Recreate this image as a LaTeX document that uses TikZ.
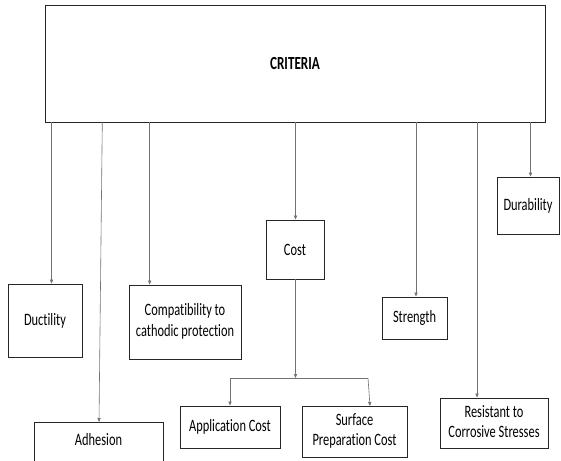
\documentclass[tikz,border=0pt]{standalone}
\usepackage{fontspec}
\setmainfont[Ligatures={NoCommon}]{Carlito}
\usepackage{graphicx}
\usetikzlibrary{arrows.meta}
\newcommand{\tx}[1]{\scalebox{1}[1.4]{#1}}
\newcommand{\txx}[2]{\scalebox{1}[1.4]{\begin{tabular}{@{}c@{}}#1\\#2\end{tabular}}}
\begin{document}
\begin{tikzpicture}[x=1pt,y=-1pt,
  boxnode/.style={draw=black!85,line width=0.9pt,inner sep=0pt,align=center,
    font=\fontsize{12.4}{14.3}\selectfont},
  conn/.style={draw=black!55,line width=0.6pt},
  arr/.style={conn,-{Triangle[length=4pt,width=3.2pt]}}]
\useasboundingbox (0,0) rectangle (561,460);
\clip (0,0) rectangle (561,460);
\fill[white] (0,0) rectangle (561,460);
% boxes
\node[boxnode,minimum width=500pt,minimum height=117pt] (crit) at (295,63.5)
  {\tx{\fontsize{13.2}{15}\selectfont\bfseries CRITERIA}};
\node[boxnode,minimum width=74pt,minimum height=73pt] (duct) at (45,320.5) {\tx{Ductility}};
\node[boxnode,minimum width=112pt,minimum height=74pt] (comp) at (185,322) {\txx{Compatibility to}{cathodic protection}};
\node[boxnode,minimum width=58pt,minimum height=59pt] (cost) at (295,249.5) {\tx{Cost}};
\node[boxnode,minimum width=65pt,minimum height=42pt] (stre) at (414.5,318) {\tx{Strength}};
\node[boxnode,minimum width=62pt,minimum height=57pt] (dura) at (528,205.5) {\tx{Durability}};
\node[boxnode,minimum width=129pt,minimum height=48pt,anchor=north] (adhe) at (98.5,422) {\tx{Adhesion}\rule[-13pt]{0pt}{1pt}};
\node[boxnode,minimum width=100pt,minimum height=42pt] (appl) at (230,427) {\tx{Application Cost}};
\node[boxnode,minimum width=105pt,minimum height=51pt] (surf) at (354.5,431.5) {\txx{Surface}{Preparation Cost}};
\node[boxnode,minimum width=108pt,minimum height=50pt] (resi) at (494,423) {\txx{Resistant to}{Corrosive Stresses}};
% connector start points on the criteria box
\coordinate (s1) at (51.5,122);
\coordinate (s2) at (102.3,122);
\coordinate (s3) at (149.7,122);
\coordinate (s4) at (295.5,122);
\coordinate (s5) at (416,122);
\coordinate (s6) at (477,122);
\coordinate (s7) at (530.5,122);
\coordinate (adtop) at (99,422);
\draw[arr] (s1) -- (s1 |- duct.north);
\draw[arr] (s2) -- (adtop);
\draw[arr] (s3) -- (s3 |- comp.north);
\draw[arr] (s4) -- (s4 |- cost.north);
\draw[arr] (s5) -- (s5 |- stre.north);
\draw[arr] (s6) -- (s6 |- resi.north);
\draw[arr] (s7) -- (s7 |- dura.north);
% cost branch
\coordinate (j) at (295.5,378);
\coordinate (jl) at (230,378);
\coordinate (jr) at (368,378);
\coordinate (sftop) at (370,406);
\draw[arr] (cost.south -| j) -- (j);
\draw[conn] (jl) -- (jr);
\draw[arr] (jl) -- (appl.north);
\draw[arr] (jr) -- (sftop);
\end{tikzpicture}
\end{document}
